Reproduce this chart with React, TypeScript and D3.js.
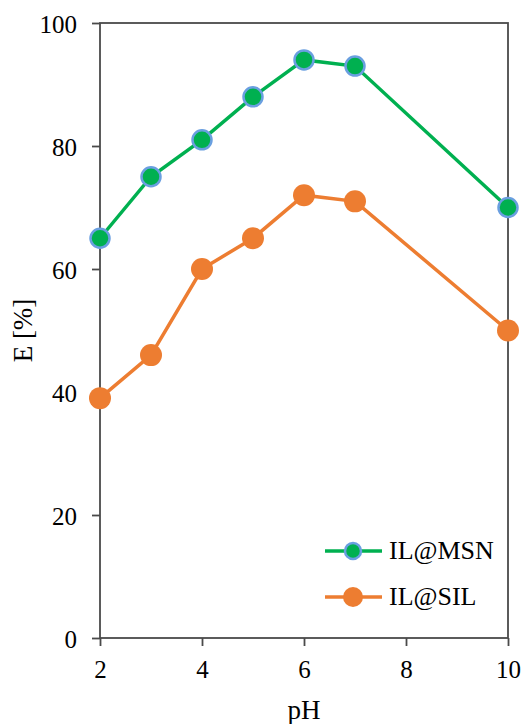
import React, { useEffect, useRef } from "react";
import * as d3 from "d3";

const phValues = [2, 3, 4, 5, 6, 7, 10];
const msnValues = [65, 75, 81, 88, 94, 93, 70];
const silValues = [39, 46, 60, 65, 72, 71, 50];
const xTicks = [2, 4, 6, 8, 10];
const yTicks = [0, 20, 40, 60, 80, 100];

const FONT = "'Liberation Serif', 'Times New Roman', serif";

const App: React.FC = () => {
  const svgRef = useRef<SVGSVGElement | null>(null);

  useEffect(() => {
    if (!svgRef.current) return;
    const svg = d3.select(svgRef.current);
    svg.selectAll("*").remove();

    const margin = { top: 23, right: 15, bottom: 86, left: 100 };
    const width = 523;
    const height = 724;

    const x = d3.scaleLinear().domain([2, 10]).range([margin.left, width - margin.right]);
    const y = d3.scaleLinear().domain([0, 100]).range([height - margin.bottom, margin.top]);

    const axisColor = "#4a4a4a";

    // frame
    svg.append("rect")
      .attr("x", x(2))
      .attr("y", y(100))
      .attr("width", x(10) - x(2))
      .attr("height", y(0) - y(100))
      .attr("fill", "none")
      .attr("stroke", axisColor)
      .attr("stroke-width", 1.8);

    // y axis
    const yAxis = svg.append("g")
      .attr("transform", `translate(${x(2)},0)`)
      .call(d3.axisLeft(y).tickValues(yTicks).tickSize(8).tickPadding(15));
    yAxis.select(".domain").remove();
    yAxis.selectAll("line").attr("stroke", axisColor).attr("stroke-width", 1.8);
    yAxis.selectAll("text")
      .attr("fill", "#000")
      .attr("dy", "0.36em")
      .style("font-family", FONT)
      .style("font-size", "25px");

    // x axis
    const xAxis = svg.append("g")
      .attr("transform", `translate(0,${y(0)})`)
      .call(d3.axisBottom(x).tickValues(xTicks).tickSize(8));
    xAxis.select(".domain").remove();
    xAxis.selectAll("line").attr("stroke", axisColor).attr("stroke-width", 1.8);
    xAxis.selectAll("text")
      .attr("fill", "#000")
      .attr("y", 40)
      .attr("dy", null)
      .style("font-family", FONT)
      .style("font-size", "25px");

    // axis titles
    svg.append("text")
      .attr("x", (x(2) + x(10)) / 2)
      .attr("y", 719)
      .attr("text-anchor", "middle")
      .style("font-family", FONT)
      .style("font-size", "27px")
      .text("pH");

    svg.append("text")
      .attr("transform", `translate(32,${(y(0) + y(100)) / 2}) rotate(-90)`)
      .attr("text-anchor", "middle")
      .style("font-family", FONT)
      .style("font-size", "27px")
      .text("E [%]");

    const line = d3.line<number>()
      .x((_, i) => x(phValues[i]))
      .y((d) => y(d));

    // IL@SIL
    svg.append("path")
      .datum(silValues)
      .attr("d", line)
      .attr("fill", "none")
      .attr("stroke", "#ED7D31")
      .attr("stroke-width", 3.5);
    svg.selectAll(".sil")
      .data(silValues)
      .enter()
      .append("circle")
      .attr("cx", (_, i) => x(phValues[i]))
      .attr("cy", (d) => y(d))
      .attr("r", 11)
      .attr("fill", "#ED7D31");

    // IL@MSN
    svg.append("path")
      .datum(msnValues)
      .attr("d", line)
      .attr("fill", "none")
      .attr("stroke", "#00B050")
      .attr("stroke-width", 3.5);
    svg.selectAll(".msn")
      .data(msnValues)
      .enter()
      .append("circle")
      .attr("cx", (_, i) => x(phValues[i]))
      .attr("cy", (d) => y(d))
      .attr("r", 9.5)
      .attr("fill", "#00B050")
      .attr("stroke", "#6A9FE0")
      .attr("stroke-width", 2.5);

    // legend
    const legend = [
      { label: "IL@MSN", color: "#00B050", stroke: "#6A9FE0", r: 8, y: 551 },
      { label: "IL@SIL", color: "#ED7D31", stroke: "none", r: 10, y: 597 },
    ];
    legend.forEach((item) => {
      svg.append("line")
        .attr("x1", 325)
        .attr("x2", 382)
        .attr("y1", item.y)
        .attr("y2", item.y)
        .attr("stroke", item.color)
        .attr("stroke-width", 3.5);
      svg.append("circle")
        .attr("cx", 353)
        .attr("cy", item.y)
        .attr("r", item.r)
        .attr("fill", item.color)
        .attr("stroke", item.stroke)
        .attr("stroke-width", 2.5);
      svg.append("text")
        .attr("x", 389)
        .attr("y", item.y + 8)
        .style("font-family", FONT)
        .style("font-size", "26px")
        .text(item.label);
    });
  }, []);

  return (
    <svg
      ref={svgRef}
      width={523}
      height={724}
      style={{ position: "absolute", left: 0, top: 0, background: "#fff" }}
    ></svg>
  );
};

export default App;
